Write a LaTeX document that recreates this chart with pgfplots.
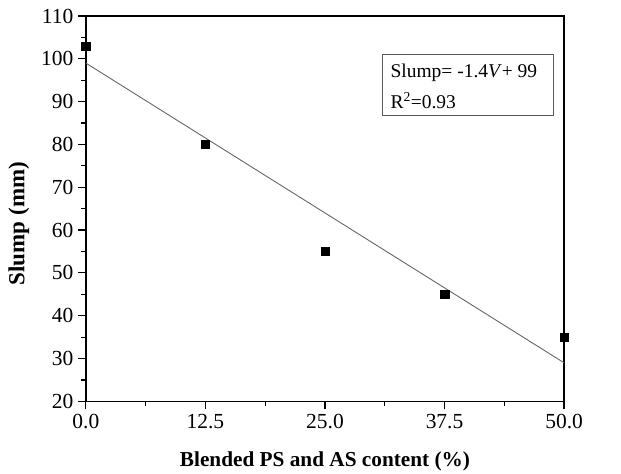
\documentclass[border=0pt]{standalone}
\usepackage{pgfplots}
\pgfplotsset{compat=1.18}
\usepackage{fontspec}
\setmainfont{Liberation Serif}
\begin{document}
\begin{tikzpicture}
\begin{axis}[
  scale only axis,
  width=479pt, height=386pt,
  xmin=0, xmax=50, ymin=20, ymax=110,
  xtick={0,12.5,25,37.5,50},
  xticklabels={0.0,12.5,25.0,37.5,50.0},
  ytick={20,30,...,110},
  minor x tick num=1, minor y tick num=1,
  tick align=outside,
  xtick pos=bottom, ytick pos=left,
  major tick length=8pt, minor tick length=4.5pt,
  tick style={black, line width=1.2pt},
  axis line style={line width=1.5pt},
  /pgf/number format/assume math mode=true,
  ticklabel style={font=\fontsize{21.5}{24}\selectfont},
  yticklabel style={xshift=-1pt},
  xticklabel style={yshift=-1pt},
  xlabel={\textbf{Blended PS and AS content (\%)}},
  ylabel={\textbf{Slump (mm)}},
  xlabel style={at={(rel axis cs:0.5,0)}, anchor=base, yshift=-65pt, font=\fontsize{21.3}{24}\selectfont},
  ylabel style={at={(rel axis cs:0,0.5)}, anchor=center, yshift=67pt, xshift=-15pt, font=\fontsize{23}{26}\selectfont},
  clip=true,
]
\addplot[only marks, mark=square*, mark size=4.2pt, black] coordinates {
  (0,103) (12.5,80) (25,55) (37.5,45) (50,35)
};
\addplot[black!60, line width=0.9pt] coordinates {(0,99) (50,29)};
\draw[black!65, line width=0.9pt] (axis cs:31,101.1) rectangle (axis cs:48.9,86.7);
\node[anchor=base west, inner sep=0pt, font=\fontsize{19.5}{22}\selectfont]
  at (axis cs:31.84,95.54) {Slump= -1.4\textit{V}+ 99};
\node[anchor=base west, inner sep=0pt, font=\fontsize{19.5}{22}\selectfont]
  at (axis cs:31.84,88.32) {R$^{\mathrm{2}}$=0.93};
\path (rel axis cs:0,0) ++(-86pt,-72pt) coordinate (bbbl);
\path (rel axis cs:1,1) ++(57pt,16pt) coordinate (bbtr);
\end{axis}
\pgfresetboundingbox
\useasboundingbox (bbbl) rectangle (bbtr);
\end{tikzpicture}
\end{document}
